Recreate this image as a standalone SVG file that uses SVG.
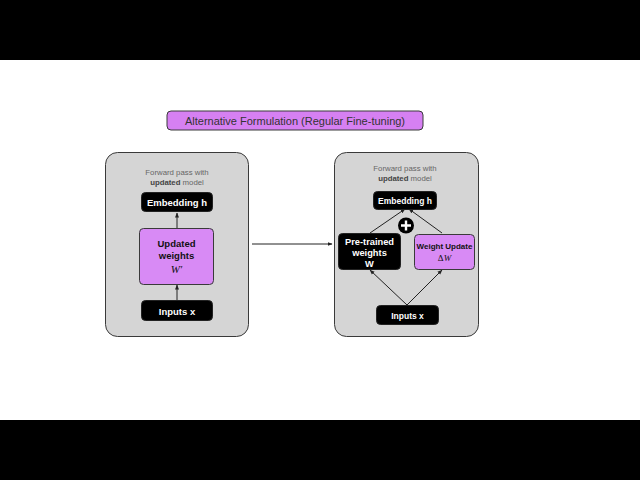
<svg xmlns="http://www.w3.org/2000/svg" width="640" height="480" viewBox="0 0 640 480">
<defs>
<style>
.bar{fill:#000}
.panel{fill:#d5d5d5;stroke:#3a3a3a;stroke-width:1}
.blk{fill:#000;stroke:#222;stroke-width:1}
.pur{fill:#d88af5;stroke:#3a3a3a;stroke-width:1}
.wt{font-family:"Liberation Sans",Arial,sans-serif;font-weight:bold;fill:#fff;text-anchor:middle}
.bt{font-family:"Liberation Sans",Arial,sans-serif;font-weight:bold;fill:#111;text-anchor:middle}
.cap{font-family:"Liberation Sans",Arial,sans-serif;font-size:7.8px;fill:#666;text-anchor:middle}
.conn{stroke:#222;stroke-width:1;fill:none}
.math{font-family:"Liberation Serif","Times New Roman",serif;font-style:italic}
</style>
<marker id="ah" viewBox="0 0 10 10" refX="9" refY="5" markerWidth="5" markerHeight="5" orient="auto-start-reverse">
<path d="M0,1 L10,5 L0,9 z" fill="#222"/>
</marker>
</defs>
<rect width="640" height="480" fill="#fff"/>
<rect class="bar" x="0" y="0" width="640" height="60"/>
<rect class="bar" x="0" y="420" width="640" height="60"/>

<g id="title">
<rect x="167" y="111" width="256" height="19" rx="4" fill="#d680f2" stroke="#3a3a3a" stroke-width="1"/>
<text x="295" y="124.5" font-family="'Liberation Sans',Arial,sans-serif" font-size="11" fill="#333" text-anchor="middle">Alternative Formulation (Regular Fine-tuning)</text>
</g>

<g id="panel-left">
<rect class="panel" x="105.5" y="152.5" width="143" height="184" rx="12"/>
<text class="cap" x="177" y="175">Forward pass with</text>
<text class="cap" x="177" y="185"><tspan font-weight="bold" fill="#444">updated</tspan> model</text>
</g>

<g id="panel-right">
<rect class="panel" x="334.5" y="152.5" width="144" height="184" rx="12"/>
<text class="cap" x="405" y="171">Forward pass with</text>
<text class="cap" x="405" y="181"><tspan font-weight="bold" fill="#444">updated</tspan> model</text>
</g>

<g id="connectors">
<line class="conn" x1="177" y1="300" x2="177" y2="285" marker-end="url(#ah)"/>
<line class="conn" x1="177" y1="228" x2="177" y2="213" marker-end="url(#ah)"/>
<line class="conn" x1="252" y1="244" x2="332" y2="244" marker-end="url(#ah)"/>
<line class="conn" x1="407" y1="305" x2="370" y2="270" marker-end="url(#ah)"/>
<line class="conn" x1="407" y1="305" x2="442" y2="270" marker-end="url(#ah)"/>
<line class="conn" x1="370" y1="233" x2="405" y2="209" marker-end="url(#ah)"/>
<line class="conn" x1="442" y1="233" x2="409" y2="209" marker-end="url(#ah)"/>
</g>

<g id="embedding-left">
<rect class="blk" x="141.5" y="192.5" width="71" height="19" rx="4"/>
<text class="wt" x="177" y="206" font-size="9.5">Embedding h</text>
</g>
<g id="updated-weights">
<rect class="pur" x="139.5" y="228.5" width="74" height="56" rx="4"/>
<text class="bt" x="176.5" y="247" font-size="9.5">Updated</text>
<text class="bt" x="176.5" y="259" font-size="9.5">weights</text>
<text class="math" x="176.5" y="273" font-size="11" fill="#111" text-anchor="middle">W′</text>
</g>
<g id="inputs-left">
<rect class="blk" x="141.5" y="300.5" width="71" height="20" rx="4"/>
<text class="wt" x="177" y="314.5" font-size="9.5">Inputs x</text>
</g>

<g id="embedding-right">
<rect class="blk" x="373.5" y="191.5" width="63" height="18" rx="4"/>
<text class="wt" x="405" y="204" font-size="8.5">Embedding h</text>
</g>
<g id="plus">
<circle cx="406" cy="225.5" r="8" fill="#000"/>
<path d="M406,220.5 V230.5 M401,225.5 H411" stroke="#fff" stroke-width="2.4"/>
</g>
<g id="pretrained">
<rect class="blk" x="338.5" y="233.5" width="62" height="36" rx="4"/>
<text class="wt" x="369.5" y="245" font-size="9.3">Pre-trained</text>
<text class="wt" x="369.5" y="256" font-size="9.3">weights</text>
<text class="wt" x="369.5" y="267" font-size="9.3">W</text>
</g>
<g id="weight-update">
<rect class="pur" x="414.5" y="234.5" width="60" height="35" rx="4"/>
<text class="bt" x="444.5" y="249" font-size="8">Weight Update</text>
<text x="444.5" y="261" font-size="9" fill="#111" text-anchor="middle" font-family="'Liberation Serif','Times New Roman',serif">Δ<tspan font-style="italic">W</tspan></text>
</g>
<g id="inputs-right">
<rect class="blk" x="376.5" y="305.5" width="62" height="19" rx="4"/>
<text class="wt" x="407.5" y="318.5" font-size="8.5">Inputs x</text>
</g>
</svg>
